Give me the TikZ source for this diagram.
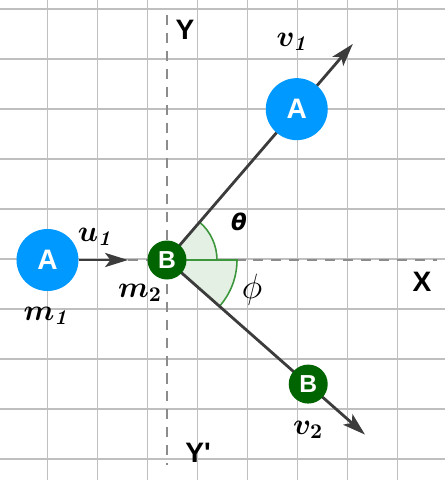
\RequirePackage{fix-cm}
\documentclass[tikz,border=0pt]{standalone}
\usepackage{amsmath,amssymb}
\usepackage[no-math]{fontspec}
\newfontfamily\labelfont{Liberation Sans}
\newfontfamily\thetafont{DejaVu Sans}
\usetikzlibrary{arrows.meta,backgrounds}
\definecolor{ballblue}{RGB}{0,153,255}
\definecolor{ballgreen}{RGB}{0,100,0}
\definecolor{wedgefill}{RGB}{228,240,228}
\definecolor{wedgeline}{RGB}{60,150,60}
\definecolor{velgray}{RGB}{60,60,60}

\begin{document}
\begin{tikzpicture}[
  gridline/.style={draw=black!25,line width=0.8pt},
  axisline/.style={draw=black!45,line width=1.5pt,dash pattern=on 5.7pt off 4.5pt},
  wedge/.style={draw=wedgeline,fill=wedgefill,line width=0.9pt},
  vel/.style={draw=velgray,line width=1.6pt,-{Stealth[length=13pt,width=8pt,inset=3pt]}},
  ballA/.style={circle,fill=ballblue,minimum size=1.24cm,inner sep=0pt,text=white,
    font=\labelfont\bfseries\fontsize{16}{19}\selectfont},
  ballB/.style={circle,fill=ballgreen,minimum size=0.78cm,inner sep=0pt,text=white,
    font=\labelfont\bfseries\fontsize{14}{17}\selectfont},
  axislabel/.style={font=\labelfont\bfseries\fontsize{16}{19}\selectfont},
  mathlabel/.style={font=\fontsize{17}{20}\selectfont}
]
\useasboundingbox (-3.34,-4.4) rectangle (5.56,5.2);

\node [ballA] (ballA) at (-2.39,0) {A};
\node [ballB] (ballB) at (0,0) {B};
\node [ballA] (ballAout) at (49.3:3.98) {A};
\node [ballB] (ballBout) at (-41.3:3.76) {B};
\coordinate (tipU) at (-0.78,0);
\coordinate (tipV1) at (49.3:5.7);
\coordinate (tipV2) at (-41.4:5.28);
\coordinate (axisY1) at (0,4.9);
\coordinate (axisY2) at (0,-4.1);
\coordinate (axisX) at (5.4,0);

\begin{scope}[on background layer]
\clip (-3.34,-4.4) rectangle (5.56,5.2);
\draw [gridline,shift={(-0.39,0.02)}] (-4,-6) grid (7,7);
\draw [axisline] (axisY1) -- (axisY2);
\draw [axisline] (tipU) -- (axisX);
\draw [wedge] (ballB.center) -- ++(0:1) arc [start angle=0,end angle=49.3,radius=1] -- cycle;
\draw [wedge] (ballB.center) -- ++(0:1.4) arc [start angle=0,end angle=-41.4,radius=1.4] -- cycle;
\draw [vel] (ballA.east) -- (tipU);
\draw [vel] (ballB.center) -- (tipV1);
\draw [vel] (ballB.center) -- (tipV2);
\end{scope}

\node [mathlabel] (labU) at (-1.42,0.46) {$\boldsymbol{u_{\mathit{1}}}$};
\node [mathlabel] (labM1) at (-2.4,-1.12) {$\boldsymbol{m_{\mathit{1}}}$};
\node [mathlabel] (labM2) at (-0.54,-0.66) {$\boldsymbol{m_2}$};
\node [mathlabel] (labV1) at (2.52,4.36) {$\boldsymbol{v_{\mathit{1}}}$};
\node [mathlabel] (labV2) at (2.82,-3.4) {$\boldsymbol{v_2}$};
\node [font=\fontsize{20}{24}\selectfont] (labPhi) at (1.7,-0.6) {$\phi$};
\node [font=\thetafont\bfseries\itshape\fontsize{13}{16}\selectfont] (labTheta) at (1.44,0.76) {θ};
\node [axislabel] (labY) at (0.36,4.6) {Y};
\node [axislabel] (labYp) at (0.62,-3.86) {Y'};
\node [axislabel] (labX) at (5.1,-0.44) {X};
\end{tikzpicture}
\end{document}
